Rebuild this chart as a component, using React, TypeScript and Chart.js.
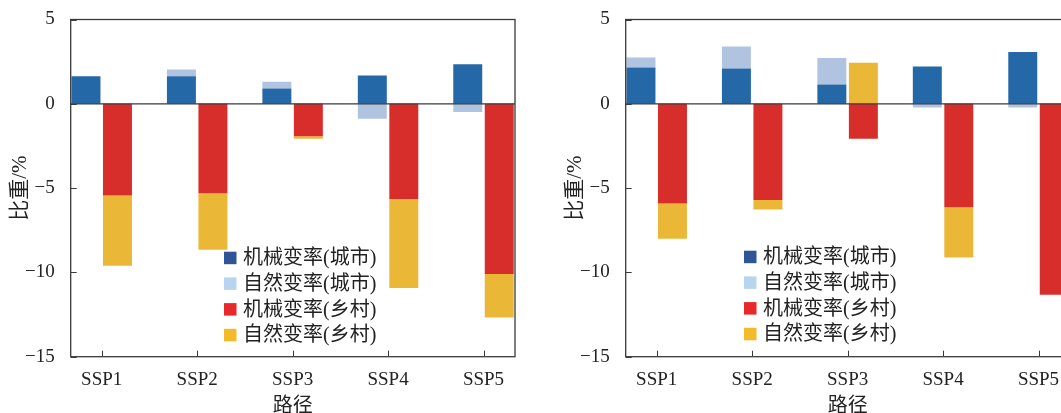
import React, { useEffect, useRef } from 'react';
import { Chart, registerables } from 'chart.js';

Chart.register(...registerables);

// ---------- data ----------
const categories = ['SSP1', 'SSP2', 'SSP3', 'SSP4', 'SSP5'];
const seriesNames = ['机械变率(城市)', '自然变率(城市)', '机械变率(乡村)', '自然变率(乡村)'];
const yTickValues = [5, 0, -5, -10, -15];
const xTitle = '路径';
const yTitle = '比重/%';

// left panel
const leftUrbanMigration = [1.64, 1.64, 0.91, 1.68, 2.35];
const leftUrbanNatural = [0, 0.4, 0.4, -0.89, -0.49];
const leftRuralMigration = [-5.44, -5.3, -1.92, -5.64, -10.09];
const leftRuralNatural = [-4.17, -3.36, -0.16, -5.28, -2.59];

// right panel
const rightUrbanMigration = [2.15, 2.1, 1.15, 2.21, 3.07];
const rightUrbanNatural = [0.6, 1.3, 1.56, -0.22, -0.22];
const rightRuralMigration = [-5.92, -5.7, -2.08, -6.13, -11.32];
const rightRuralNatural = [-2.09, -0.57, 2.43, -2.99, 0];

// ---------- styles ----------
const barColors = ['#2468a8', '#b0c3e0', '#d82e2b', '#ebb737'];
const legendColors = ['#2f5597', '#b8d5f0', '#e8292a', '#f3bb2a'];
const stackIds = ['urban', 'urban', 'rural', 'rural'];
const AXIS_COLOR = '#3a3a3a';
const TEXT_COLOR = '#222222';
const FONT = "'Liberation Serif', 'Noto Sans CJK SC', serif";
const CANVAS_W = 555;
const CANVAS_H = 430;

const framePlugin = {
  id: 'frame',
  afterDatasetsDraw(chart: any) {
    const { ctx, chartArea } = chart;
    const { left, right, top, bottom } = chartArea;
    const x = chart.scales.x;
    const y = chart.scales.y;
    ctx.save();
    ctx.strokeStyle = AXIS_COLOR;
    ctx.lineWidth = 1.3;
    ctx.strokeRect(left, top, right - left, bottom - top);
    const y0 = y.getPixelForValue(0);
    ctx.beginPath();
    ctx.moveTo(left, y0);
    ctx.lineTo(right, y0);
    ctx.stroke();
    ctx.lineWidth = 1;
    ctx.beginPath();
    x.ticks.forEach((t: any) => {
      const px = Math.round(x.getPixelForValue(t.value)) + 0.5;
      ctx.moveTo(px, bottom);
      ctx.lineTo(px, bottom - 6);
    });
    y.ticks.forEach((t: any) => {
      const py = Math.round(y.getPixelForValue(t.value)) + 0.5;
      ctx.moveTo(left, py);
      ctx.lineTo(left + 6, py);
    });
    ctx.stroke();
    ctx.restore();
  },
};

const insideLegendPlugin = {
  id: 'insideLegend',
  afterDraw(chart: any, _args: any, opts: any) {
    const { ctx, chartArea } = chart;
    const x0 = chartArea.left + opts.dx;
    const y0 = opts.top;
    const box = 12.5;
    const rowH = 25.7;
    ctx.save();
    ctx.font = `20px ${FONT}`;
    ctx.textBaseline = 'middle';
    ctx.textAlign = 'left';
    chart.data.datasets.forEach((ds: any, i: number) => {
      const by = y0 + i * rowH;
      ctx.fillStyle = legendColors[i];
      ctx.fillRect(x0, by, box, box);
      ctx.fillStyle = TEXT_COLOR;
      ctx.fillText(ds.label, x0 + box + 6.5, by + box / 2 + 1);
    });
    ctx.restore();
  },
};

function BarPanel(props: { series: number[][]; legendDx: number; legendTop: number }) {
  const ref = useRef<HTMLCanvasElement | null>(null);
  useEffect(() => {
    if (!ref.current) return;
    const datasets = props.series.map((vals, i) => ({
      label: seriesNames[i],
      data: vals.map((v, k) => ({ x: k + 1, y: v })),
      backgroundColor: barColors[i],
      borderWidth: 0,
      stack: stackIds[i],
      categoryPercentage: 0.66,
      barPercentage: 0.92,
    }));
    const chart = new Chart(ref.current, {
      type: 'bar',
      data: { datasets },
      plugins: [framePlugin, insideLegendPlugin],
      options: {
        responsive: false,
        animation: false,
        layout: { padding: { left: 0, top: 19.5, right: 40, bottom: 0 } },
        plugins: {
          legend: { display: false },
          tooltip: { enabled: false },
          insideLegend: { dx: props.legendDx, top: props.legendTop },
        } as any,
        scales: {
          x: {
            type: 'linear',
            min: 0.675,
            max: 5.33,
            offset: false,
            grid: { display: false, offset: false },
            border: { display: false },
            afterBuildTicks: (scale: any) => {
              scale.ticks = categories.map((_, i) => ({ value: i + 1 }));
            },
            afterFit: (scale: any) => {
              scale.height = CANVAS_H - 356.7;
            },
            ticks: {
              autoSkip: false,
              maxRotation: 0,
              padding: 4,
              color: TEXT_COLOR,
              font: { family: FONT, size: 19 },
              callback: (v: any) => categories[Math.round(v) - 1] ?? '',
            },
            title: {
              display: true,
              text: xTitle,
              color: TEXT_COLOR,
              font: { family: FONT, size: 20 },
              padding: { top: 0, bottom: 11 },
            },
          },
          y: {
            type: 'linear',
            min: -15,
            max: 5,
            stacked: true,
            grid: { display: false },
            border: { display: false },
            afterBuildTicks: (scale: any) => {
              scale.ticks = yTickValues.map((v) => ({ value: v }));
            },
            afterFit: (scale: any) => {
              scale.width = 70.7;
            },
            ticks: {
              padding: 8,
              color: TEXT_COLOR,
              font: { family: FONT, size: 19 },
              callback: (v: any) => (v < 0 ? '\u2212' + Math.abs(v) : String(v)),
            },
            title: {
              display: true,
              text: yTitle,
              color: TEXT_COLOR,
              font: { family: FONT, size: 21 },
              padding: { top: 8, bottom: 0 },
            },
          },
        },
      } as any,
    });
    return () => chart.destroy();
  }, []);
  return <canvas ref={ref} width={CANVAS_W} height={CANVAS_H} style={{ display: 'block' }} />;
}

export default function App() {
  return (
    <div
      style={{
        position: 'fixed',
        left: 0,
        top: 0,
        width: 1061,
        height: 413,
        overflow: 'hidden',
        background: '#ffffff',
      }}
    >
      <div style={{ position: 'absolute', left: 0, top: 0 }}>
        <BarPanel
          series={[leftUrbanMigration, leftUrbanNatural, leftRuralMigration, leftRuralNatural]}
          legendDx={153.3}
          legendTop={251.7}
        />
      </div>
      <div style={{ position: 'absolute', left: 555, top: 0 }}>
        <BarPanel
          series={[rightUrbanMigration, rightUrbanNatural, rightRuralMigration, rightRuralNatural]}
          legendDx={118.3}
          legendTop={250.7}
        />
      </div>
    </div>
  );
}
